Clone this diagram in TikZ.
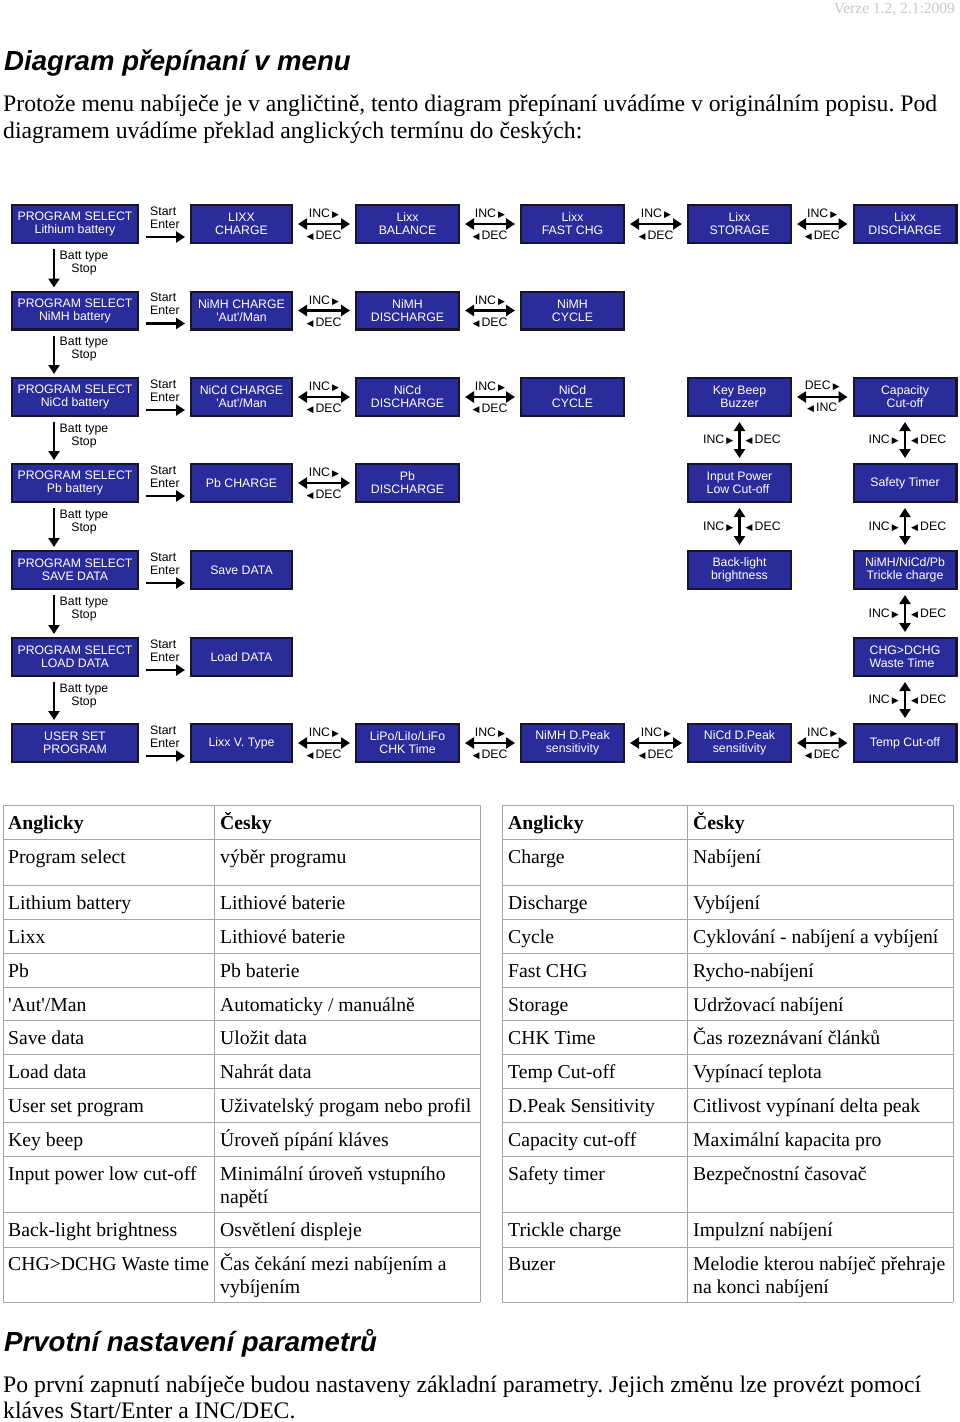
\documentclass[tikz,border=0pt]{standalone}
\usepackage{fontspec}
\setmainfont{Liberation Serif}
\newfontfamily\arial{Liberation Sans}
\newfontfamily\dejavu{DejaVu Sans}
\usetikzlibrary{arrows.meta}
\definecolor{boxblue}{RGB}{42,44,156}
\definecolor{boxborder}{RGB}{22,22,40}
\definecolor{tline}{RGB}{165,165,165}
\newcommand\rtri{\,{\dejavu\fontsize{9}{9}\selectfont ▶}}
\newcommand\ltri{{\dejavu\fontsize{9}{9}\selectfont ◀}\,}
\newcommand\sq{\textquotesingle}
\newcommand\myhid[3]{%
  \draw[darr] ([xshift=5pt]#1.east) -- ([xshift=-5pt]#2.west);
  \path (#1.east) -- (#2.west)
    node[midway, lab, yshift=10pt] (#3i) {INC\rtri}
    node[midway, lab, yshift=-12pt] (#3d) {\ltri DEC};}
\newcommand\myvid[3]{%
  \draw[darr] ([yshift=-5pt]#1.south) -- ([yshift=5pt]#2.north);
  \path (#1.south) -- (#2.north)
    node[midway, lab, anchor=east, xshift=-6pt] (#3i) {INC\rtri}
    node[midway, lab, anchor=west, xshift=6pt] (#3d) {\ltri DEC};}
\newcommand\myse[3]{%
  \draw[arr] ([shift={(7,13)}]#1.east) -- ([shift={(-5,13)}]#2.west);
  \node[lab, align=left, anchor=west] (#3) at ([shift={(11,-6.5)}]#1.east) {Start\\Enter};}
\newcommand\mybt[3]{%
  \draw[arr] ([shift={(-21,5)}]#1.south) -- ([shift={(-21,-3)}]#2.north);
  \node[lab, align=center] (#3) at ([shift={(9,19)}]#1.south) {Batt type\\Stop};}
\newcommand\mytc[4]{\node[tcell] (#1) at (#2,#3) {#4};}
\newcommand\myth[4]{\node[thead] (#1) at (#2,#3) {#4};}
\frenchspacing
\begin{document}
\begin{tikzpicture}[x=1pt,y=-1pt,
  box/.style={draw=boxborder, line width=2.2pt, fill=boxblue, text=white,
    font=\arial\fontsize{12.3}{13}\selectfont, align=center, inner sep=0pt,
    minimum height=37.8pt},
  w1/.style={box, minimum width=125.8pt},
  w2/.style={box, minimum width=100.8pt},
  w3/.style={box, minimum width=102.8pt},
  lab/.style={font=\arial\fontsize{12.3}{13}\selectfont, inner sep=0pt, text=black},
  arr/.style={line width=2.6pt, -{Triangle[length=9pt,width=11pt]}},
  darr/.style={line width=2.6pt, {Triangle[length=9pt,width=11pt]}-{Triangle[length=9pt,width=11pt]}},
  tcell/.style={anchor=base west, inner sep=0pt, font=\fontsize{19.7}{23}\selectfont},
  thead/.style={tcell, font=\bfseries\fontsize{19.7}{23}\selectfont},
  para/.style={anchor=base west, inner sep=0pt, font=\fontsize{23.7}{27}\selectfont},
  head/.style={anchor=base west, inner sep=0pt, font=\arial\bfseries\itshape\fontsize{27.6}{30}\selectfont},
  tl/.style={draw=tline, line width=0.9pt}
]
\useasboundingbox (0,0) rectangle (960,1422);

% header texts
\node[anchor=base east, inner sep=0pt, text=black!22, font=\fontsize{15.5}{15.5}\selectfont] (ver) at (955,13) {Verze 1.2, 2.1:2009};
\node[head] (title) at (4,70) {Diagram přepínaní v menu};
\node[para] (p1) at (3,111) {Protože menu nabíječe je v angličtině, tento diagram přepínaní uvádíme v originálním popisu. Pod};
\node[para] (p2) at (3,138) {diagramem uvádíme překlad anglických termínu do českých:};

% boxes
\def\ca{75}\def\cb{241.5}\def\cc{407.5}\def\cd{572.5}\def\ce{739.5}\def\cf{905}
\def\ra{224}\def\rb{310.5}\def\rc{397}\def\rd{483}\def\re{570}\def\rf{657}\def\rg{743}
\node[w1] (ps1) at (\ca,\ra) {PROGRAM SELECT\\Lithium battery};
\node[w2] (r1c2) at (\cb,\ra) {LIXX\\CHARGE};
\node[w3] (r1c3) at (\cc,\ra) {Lixx\\BALANCE};
\node[w3] (r1c4) at (\cd,\ra) {Lixx\\FAST CHG};
\node[w3] (r1c5) at (\ce,\ra) {Lixx\\STORAGE};
\node[w3] (r1c6) at (\cf,\ra) {Lixx\\DISCHARGE};

\node[w1] (ps2) at (\ca,\rb) {PROGRAM SELECT\\NiMH battery};
\node[w2] (r2c2) at (\cb,\rb) {NiMH CHARGE\\\sq Aut\sq/Man};
\node[w3] (r2c3) at (\cc,\rb) {NiMH\\DISCHARGE};
\node[w3] (r2c4) at (\cd,\rb) {NiMH\\CYCLE};

\node[w1] (ps3) at (\ca,\rc) {PROGRAM SELECT\\NiCd battery};
\node[w2] (r3c2) at (\cb,\rc) {NiCd CHARGE\\\sq Aut\sq/Man};
\node[w3] (r3c3) at (\cc,\rc) {NiCd\\DISCHARGE};
\node[w3] (r3c4) at (\cd,\rc) {NiCd\\CYCLE};
\node[w3] (r3c5) at (\ce,\rc) {Key Beep\\Buzzer};
\node[w3] (r3c6) at (\cf,\rc) {Capacity\\Cut-off};

\node[w1] (ps4) at (\ca,\rd) {PROGRAM SELECT\\Pb battery};
\node[w2] (r4c2) at (\cb,\rd) {Pb CHARGE};
\node[w3] (r4c3) at (\cc,\rd) {Pb\\DISCHARGE};
\node[w3, align=left] (r4c5) at (\ce,\rd) {Input Power\\Low Cut-off};
\node[w3] (r4c6) at (\cf,\rd) {Safety Timer};

\node[w1] (ps5) at (\ca,\re) {PROGRAM SELECT\\SAVE DATA};
\node[w2] (r5c2) at (\cb,\re) {Save DATA};
\node[w3] (r5c5) at (\ce,\re) {Back-light\\brightness};
\node[w3] (r5c6) at (\cf,\re) {NiMH/NiCd/Pb\\Trickle charge};

\node[w1] (ps6) at (\ca,\rf) {PROGRAM SELECT\\LOAD DATA};
\node[w2] (r6c2) at (\cb,\rf) {Load DATA};
\node[w3, align=left] (r6c6) at (\cf,\rf) {CHG>DCHG\\Waste Time};

\node[w1] (ps7) at (\ca,\rg) {USER SET\\PROGRAM};
\node[w2] (r7c2) at (\cb,\rg) {Lixx V. Type};
\node[w3] (r7c3) at (\cc,\rg) {LiPo/LiIo/LiFo\\CHK Time};
\node[w3] (r7c4) at (\cd,\rg) {NiMH D.Peak\\sensitivity};
\node[w3] (r7c5) at (\ce,\rg) {NiCd D.Peak\\sensitivity};
\node[w3] (r7c6) at (\cf,\rg) {Temp Cut-off};

% start/enter arrows
\myse{ps1}{r1c2}{s1}
\myse{ps2}{r2c2}{s2}
\myse{ps3}{r3c2}{s3}
\myse{ps4}{r4c2}{s4}
\myse{ps5}{r5c2}{s5}
\myse{ps6}{r6c2}{s6}
\myse{ps7}{r7c2}{s7}
% batt type arrows
\mybt{ps1}{ps2}{b1}
\mybt{ps2}{ps3}{b2}
\mybt{ps3}{ps4}{b3}
\mybt{ps4}{ps5}{b4}
\mybt{ps5}{ps6}{b5}
\mybt{ps6}{ps7}{b6}
% INC/DEC horizontal
\myhid{r1c2}{r1c3}{h12}
\myhid{r1c3}{r1c4}{h13}
\myhid{r1c4}{r1c5}{h14}
\myhid{r1c5}{r1c6}{h15}
\myhid{r2c2}{r2c3}{h22}
\myhid{r2c3}{r2c4}{h23}
\myhid{r3c2}{r3c3}{h32}
\myhid{r3c3}{r3c4}{h33}
\myhid{r4c2}{r4c3}{h42}
\myhid{r7c2}{r7c3}{h72}
\myhid{r7c3}{r7c4}{h73}
\myhid{r7c4}{r7c5}{h74}
\myhid{r7c5}{r7c6}{h75}
% Key beep <-> capacity
\draw[darr] ([xshift=5pt]r3c5.east) -- ([xshift=-5pt]r3c6.west);
\path (r3c5.east) -- (r3c6.west)
  node[midway, lab, yshift=11pt] (kcd) {DEC\rtri}
  node[midway, lab, yshift=-11pt] (kci) {\ltri INC};
% vertical INC/DEC
\myvid{r3c5}{r4c5}{v51}
\myvid{r4c5}{r5c5}{v52}
\myvid{r3c6}{r4c6}{v61}
\myvid{r4c6}{r5c6}{v62}
\myvid{r5c6}{r6c6}{v63}
\myvid{r6c6}{r7c6}{v64}

% tables
\foreach \yy in {805,839,885,919,953,987,1020,1054,1088,1122,1156,1212,1247,1302}{
  \draw[tl] (3,\yy) -- (480,\yy);
  \draw[tl] (502,\yy) -- (953,\yy);
}
\foreach \xx in {3,214,480,502,687,953}{
  \draw[tl] (\xx,805) -- (\xx,1302);
}
\def\xa{8}\def\xb{220}\def\xc{508}\def\xd{693}
\myth{la0}{\xa}{829}{Anglicky}
\myth{lb0}{\xb}{829}{Česky}
\myth{ra0}{\xc}{829}{Anglicky}
\myth{rb0}{\xd}{829}{Česky}
\mytc{la1}{\xa}{863}{Program select}
\mytc{lb1}{\xb}{863}{výběr programu}
\mytc{la2}{\xa}{909}{Lithium battery}
\mytc{lb2}{\xb}{909}{Lithiové baterie}
\mytc{la3}{\xa}{943}{Lixx}
\mytc{lb3}{\xb}{943}{Lithiové baterie}
\mytc{la4}{\xa}{977}{Pb}
\mytc{lb4}{\xb}{977}{Pb baterie}
\mytc{la5}{\xa}{1011}{\sq Aut\sq/Man}
\mytc{lb5}{\xb}{1011}{Automaticky / manuálně}
\mytc{la6}{\xa}{1044}{Save data}
\mytc{lb6}{\xb}{1044}{Uložit data}
\mytc{la7}{\xa}{1078}{Load data}
\mytc{lb7}{\xb}{1078}{Nahrát data}
\mytc{la8}{\xa}{1112}{User set program}
\mytc{lb8}{\xb}{1112}{Uživatelský progam nebo profil}
\mytc{la9}{\xa}{1146}{Key beep}
\mytc{lb9}{\xb}{1146}{Úroveň pípání kláves}
\mytc{la10}{\xa}{1180}{Input power low cut-off}
\mytc{lb10}{\xb}{1180}{Minimální úroveň vstupního}
\mytc{lb10x}{\xb}{1203}{napětí}
\mytc{la11}{\xa}{1236}{Back-light brightness}
\mytc{lb11}{\xb}{1236}{Osvětlení displeje}
\mytc{la12}{\xa}{1270}{CHG>DCHG Waste time}
\mytc{lb12}{\xb}{1270}{Čas čekání mezi nabíjením a}
\mytc{lb12x}{\xb}{1293}{vybíjením}

\mytc{ra1}{\xc}{863}{Charge}
\mytc{rb1}{\xd}{863}{Nabíjení}
\mytc{ra2}{\xc}{909}{Discharge}
\mytc{rb2}{\xd}{909}{Vybíjení}
\mytc{ra3}{\xc}{943}{Cycle}
\mytc{rb3}{\xd}{943}{Cyklování - nabíjení a vybíjení}
\mytc{ra4}{\xc}{977}{Fast CHG}
\mytc{rb4}{\xd}{977}{Rycho-nabíjení}
\mytc{ra5}{\xc}{1011}{Storage}
\mytc{rb5}{\xd}{1011}{Udržovací nabíjení}
\mytc{ra6}{\xc}{1044}{CHK Time}
\mytc{rb6}{\xd}{1044}{Čas rozeznávaní článků}
\mytc{ra7}{\xc}{1078}{Temp Cut-off}
\mytc{rb7}{\xd}{1078}{Vypínací teplota}
\mytc{ra8}{\xc}{1112}{D.Peak Sensitivity}
\mytc{rb8}{\xd}{1112}{Citlivost vypínaní delta peak}
\mytc{ra9}{\xc}{1146}{Capacity cut-off}
\mytc{rb9}{\xd}{1146}{Maximální kapacita pro}
\mytc{ra10}{\xc}{1180}{Safety timer}
\mytc{rb10}{\xd}{1180}{Bezpečnostní časovač}
\mytc{ra11}{\xc}{1236}{Trickle charge}
\mytc{rb11}{\xd}{1236}{Impulzní nabíjení}
\mytc{ra12}{\xc}{1270}{Buzer}
\mytc{rb12}{\xd}{1270}{Melodie kterou nabíječ přehraje}
\mytc{rb12x}{\xd}{1293}{na konci nabíjení}

% bottom
\node[head] (title2) at (4,1351) {Prvotní nastavení parametrů};
\node[para] (q1) at (3,1392) {Po první zapnutí nabíječe budou nastaveny základní parametry. Jejich změnu lze provézt pomocí};
\node[para] (q2) at (3,1418) {kláves Start/Enter a INC/DEC.};
\end{tikzpicture}
\end{document}
